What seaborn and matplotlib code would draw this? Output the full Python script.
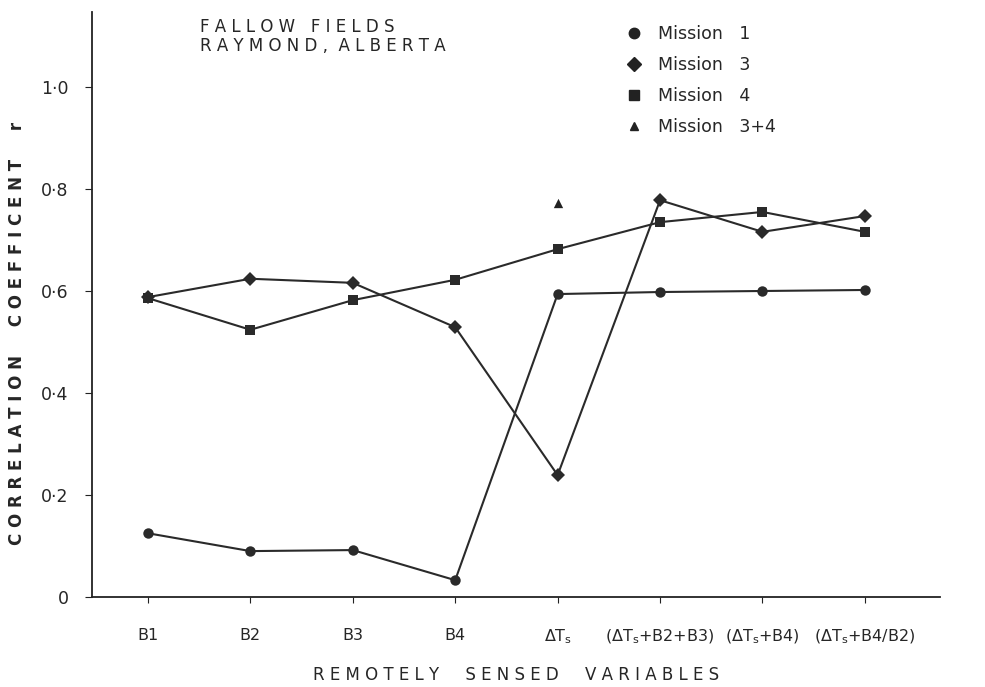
import matplotlib
matplotlib.use("Agg")
import matplotlib.pyplot as plt
from matplotlib.lines import Line2D
import seaborn as sns
import pandas as pd

# values
variables = ["B1", "B2", "B3", "B4", r"$\Delta$T$_\mathregular{s}$",
             r"($\Delta$T$_\mathregular{s}$+B2+B3)", r"($\Delta$T$_\mathregular{s}$+B4)",
             r"($\Delta$T$_\mathregular{s}$+B4/B2)"]
mission1 = [0.125, 0.090, 0.092, 0.033, 0.594, 0.598, 0.600, 0.602]
mission3 = [0.588, 0.624, 0.616, 0.529, 0.239, 0.778, 0.716, 0.747]
mission4 = [0.586, 0.524, 0.582, 0.622, 0.682, 0.735, 0.755, 0.716]
mission34_var = [4]
mission34 = [0.773]

missions = ["Mission 1", "Mission 3", "Mission 4"]
markers = {"Mission 1": "o", "Mission 3": "D", "Mission 4": "s"}

rows = []
for name, vals in zip(missions, [mission1, mission3, mission4]):
    for i, v in enumerate(vals):
        rows.append({"pos": i, "r": v, "mission": name})
df = pd.DataFrame(rows)

sns.set_style("ticks")
plt.rcParams['font.family'] = ['DejaVu Sans']

fig = plt.figure(figsize=(9.85, 6.87), dpi=100)
ax = fig.add_axes([0.0934, 0.131, 0.8606, 0.8515])

sns.lineplot(data=df, x="pos", y="r", hue="mission", style="mission",
             markers=markers, dashes=False, palette=["#2a2a2a"] * 3,
             linewidth=1.5, markersize=7.5, markeredgewidth=0, legend=False, ax=ax)
sns.scatterplot(x=mission34_var, y=mission34, marker="^", color="#222222",
                s=45, linewidth=0, ax=ax)

ax.set_xlim(-0.546, 7.73)
ax.set_ylim(0, 1.147)
ax.set_xticks(range(len(variables)))
ax.set_xticklabels(variables, fontsize=11.5)
ax.set_yticks([0, 0.2, 0.4, 0.6, 0.8, 1.0])
ax.set_yticklabels(["0", "0·2", "0·4", "0·6", "0·8", "1·0"], fontsize=12.5)
ax.tick_params(axis="x", length=4, pad=18, color="#222222")
ax.tick_params(axis="y", length=5, pad=12, color="#222222")
sns.despine(ax=ax)
for s in ["left", "bottom"]:
    ax.spines[s].set_linewidth(1.3)
    ax.spines[s].set_color("#222222")

ax.set_xlabel("R E M O T E L Y     S E N S E D     V A R I A B L E S",
              fontsize=12, labelpad=14)
ax.set_ylabel("C O R R E L A T I O N     C O E F F I C E N T     r",
              fontsize=12, fontweight="bold")
ax.yaxis.set_label_coords(-0.078, 0.45)

ax.text(0.127, 0.99, "F A L L O W   F I E L D S\nR A Y M O N D ,  A L B E R T A",
        transform=ax.transAxes, fontsize=12, va="top", ha="left", linespacing=1.1)

handles = [Line2D([], [], linestyle="none", marker=m, color="#222222", markersize=ms)
           for m, ms in [("o", 7.5), ("D", 7.5), ("s", 6.5), ("^", 6)]]
labels = ["Mission   1", "Mission   3", "Mission   4", "Mission   3+4"]
ax.legend(handles, labels, loc="upper left", bbox_to_anchor=(0.6, 1.005),
          frameon=False, fontsize=12.5, handletextpad=0.4, labelspacing=0.75)

fig.savefig("out.png", dpi=100)
